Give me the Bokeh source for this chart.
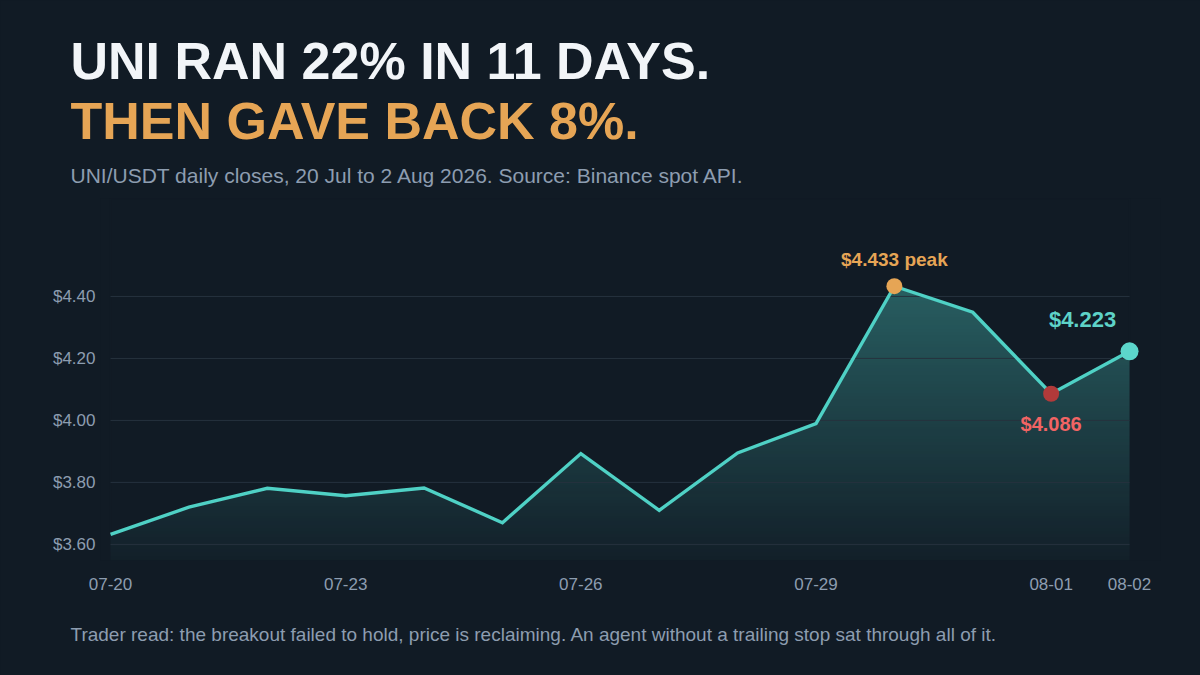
import numpy as np

from bokeh.plotting import figure
from bokeh.models import Range1d, FixedTicker, NumeralTickFormatter, Title
from bokeh.core.properties import value
from bokeh.embed import file_html
from bokeh.resources import INLINE

# UNI/USDT daily closes
dates = ["07-20", "07-21", "07-22", "07-23", "07-24", "07-25", "07-26",
         "07-27", "07-28", "07-29", "07-30", "07-31", "08-01", "08-02"]
closes = [3.632, 3.720, 3.781, 3.757, 3.782, 3.670, 3.893,
          3.710, 3.895, 3.990, 4.433, 4.349, 4.086, 4.223]

tick_days = ["07-20", "07-23", "07-26", "07-29", "08-01", "08-02"]
price_ticks = [3.6, 3.8, 4.0, 4.2, 4.4]

peak_day = "07-30"
low_day = "08-01"
last_day = "08-02"

BG = "#111b25"
GREY = "#8d9db0"
TEAL = "#4fd1c5"
ORANGE = "#e6a555"
FONT = "Liberation Sans"

days = list(range(len(dates)))

p = figure(width=1200, height=675, output_backend="svg", toolbar_location=None,
           x_range=Range1d(-0.128, 13.395), y_range=Range1d(3.548, 4.716),
           min_border_left=100, min_border_right=40,
           min_border_top=198, min_border_bottom=115)
p.background_fill_color = BG
p.border_fill_color = BG
p.outline_line_color = None
p.grid.visible = False

# titles, stacked upward from the plot
sub = Title(text="UNI/USDT daily closes, 20 Jul to 2 Aug 2026. Source: Binance spot API.",
            text_font=FONT, text_font_size="21px", text_font_style="normal",
            text_color=GREY, align="left", offset=-30, standoff=24)
t2 = Title(text="THEN GAVE BACK 8%.", text_font=FONT, text_font_size="52px",
           text_font_style="bold", text_color=ORANGE, align="left", offset=-30, standoff=0)
t1 = Title(text="UNI RAN 22% IN 11 DAYS.", text_font=FONT, text_font_size="52px",
           text_font_style="bold", text_color="#f2f5f8", align="left", offset=-30, standoff=0)
p.add_layout(sub, "above")
p.add_layout(t2, "above")
p.add_layout(t1, "above")

foot = Title(text="Trader read: the breakout failed to hold, price is reclaiming. "
                  "An agent without a trailing stop sat through all of it.",
             text_font=FONT, text_font_size="19px", text_font_style="normal",
             text_color=GREY, align="left", offset=-30, standoff=58)
p.add_layout(foot, "below")

# gradient fill under the line: vertical alpha ramp, masked above the line
y_lo = p.y_range.start
y_hi = p.y_range.end
n = 256
alpha = np.linspace(0.03, 0.38, n)
img = np.empty((n, 1), dtype=np.uint32)
view = img.view(dtype=np.uint8).reshape((n, 1, 4))
view[:, 0, 0] = 78
view[:, 0, 1] = 205
view[:, 0, 2] = 196
view[:, 0, 3] = (alpha * 255).astype(np.uint8)
p.image_rgba(image=[img], x=0, y=y_lo, dw=days[-1], dh=max(closes) - y_lo)
p.patch(days + [days[-1], days[0]], closes + [y_hi, y_hi],
        fill_color=BG, line_color=BG, line_width=2)

# grid lines
p.segment(x0=[days[0]] * len(price_ticks), x1=[days[-1]] * len(price_ticks),
          y0=price_ticks, y1=price_ticks, line_color="#26323e", line_width=1)

p.line(days, closes, line_color=TEAL, line_width=3.4, line_join="miter")

pk = dates.index(peak_day)
lo = dates.index(low_day)
ls = dates.index(last_day)

p.scatter([pk], [closes[pk]], size=16, fill_color=ORANGE, line_color=None)
p.scatter([lo], [closes[lo]], size=16, fill_color="#b23a3a", line_color=None)
p.scatter([ls], [closes[ls]], size=18, fill_color="#5cd6cb", line_color=None)

p.text([pk], [closes[pk]], text=["$%.3f peak" % closes[pk]], x_offset=0, y_offset=-27,
       text_font=value(FONT), text_font_style="bold", text_font_size="19px",
       text_align="center", text_baseline="middle", text_color=ORANGE)
p.text([lo], [closes[lo]], text=["$%.3f" % closes[lo]], x_offset=0, y_offset=30,
       text_font=value(FONT), text_font_style="bold", text_font_size="20px",
       text_align="center", text_baseline="middle", text_color="#f26464")
p.text([ls], [closes[ls]], text=["$%.3f" % closes[ls]], x_offset=-47, y_offset=-32,
       text_font=value(FONT), text_font_style="bold", text_font_size="22px",
       text_align="center", text_baseline="middle", text_color="#5ed3c8")

# axes
for ax in (p.xaxis[0], p.yaxis[0]):
    ax.axis_line_color = None
    ax.major_tick_line_color = None
    ax.minor_tick_line_color = None
    ax.major_tick_out = 0
    ax.major_tick_in = 0
    ax.major_label_text_font = FONT
    ax.major_label_text_font_size = "17px"
    ax.major_label_text_color = GREY

p.xaxis.ticker = FixedTicker(ticks=[dates.index(d) for d in tick_days])
p.xaxis.major_label_overrides = {dates.index(d): d for d in tick_days}
p.xaxis.major_label_standoff = 17

p.yaxis.ticker = FixedTicker(ticks=price_ticks)
p.yaxis.formatter = NumeralTickFormatter(format="$0.00")
p.yaxis.major_label_standoff = 5

html = file_html(p, INLINE, title="UNI ran 22% in 11 days")
html = html.replace("<head>", "<head><style>body{background:%s;}</style>" % BG, 1)
open("out.html", "w").write(html)
